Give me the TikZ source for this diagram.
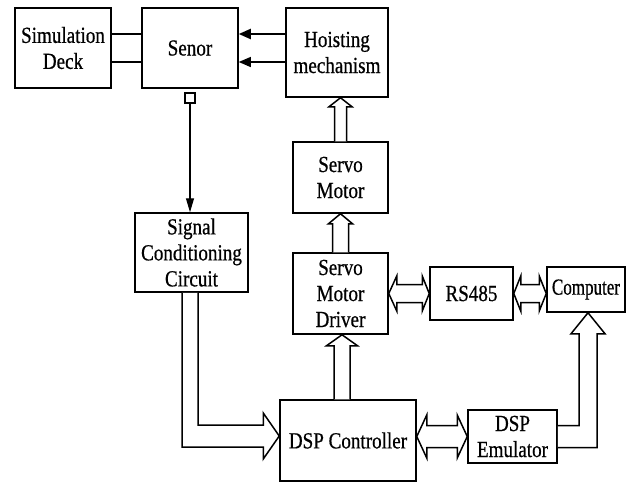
\documentclass[tikz,border=0pt]{standalone}
\usepackage{fontspec}
\setmainfont{Liberation Serif}[FakeStretch=0.83,FakeBold=0.6]
\newfontfamily\narrowfont{Liberation Serif}[FakeStretch=0.74,FakeBold=0.6]
\usetikzlibrary{arrows.meta,calc}
\begin{document}
\begin{tikzpicture}[x=1pt,y=-1pt,
  blk/.style={draw,line width=1.5pt,align=center,inner sep=0pt,
    font=\fontsize{23}{26}\selectfont},
  hol/.style={draw,line width=1.5pt,line join=miter,fill=white}]
\useasboundingbox (0,0) rectangle (631,482);
\node[blk,minimum width=96pt,minimum height=80pt] (sim) at (63,48) {Simulation\\Deck};
\node[blk,minimum width=96pt,minimum height=80pt] (senor) at (190,48) {Senor};
\node[blk,minimum width=102pt,minimum height=89pt] (hoist) at (337,52.5) {Hoisting\\mechanism};
\node[blk,minimum width=95pt,minimum height=71pt] (motor) at (340.5,177.5) {Servo\\Motor};
\node[blk,minimum width=113pt,minimum height=79pt] (signal) at (191.5,252.5) {Signal\\Conditioning\\Circuit};
\node[blk,minimum width=95pt,minimum height=81pt] (driver) at (340.5,293.5) {Servo\\Motor\\Driver};
\node[blk,minimum width=83pt,minimum height=53pt] (rs) at (471.5,293.5) {RS485};
\node[blk,minimum width=78pt,minimum height=45pt,font=\fontsize{23}{26}\narrowfont] (comp) at (586,289.5) {Computer};
\node[blk,minimum width=136pt,minimum height=81pt] (dsp) at (348,440.5) {DSP Controller};
\node[blk,minimum width=89pt,minimum height=53pt] (emu) at (512.5,436.5) {DSP\\Emulator};
\node[draw,line width=1.2pt,minimum size=10pt,inner sep=0pt] (port) at (190,98) {};
% simulation deck -- senor
\draw[line width=2pt] ([yshift=14pt]sim.east) -- ([yshift=14pt]sim.east -| senor.west);
\draw[line width=1.1pt] ([yshift=-14pt]sim.east) -- ([yshift=-14pt]sim.east -| senor.west);
% hoisting -> senor
\draw[line width=2pt,-{Triangle[length=12pt,width=10pt]}] ([yshift=18.5pt]hoist.west) -- ([yshift=18.5pt]hoist.west -| senor.east);
\draw[line width=1.1pt,-{Triangle[length=12pt,width=10pt]}] ([yshift=-9.5pt]hoist.west) -- ([yshift=-9.5pt]hoist.west -| senor.east);
% senor -> signal
\draw[line width=1.1pt,-{Triangle[length=14pt,width=8pt]}] (port.south) -- (port.south |- signal.north);
% motor -> hoist
\draw[hol] let \p1=(motor.north), \p2=(hoist.south) in
  (\x1-6pt,\y1) -- (\x1-6pt,\y2-9pt) -- (\x1-11.5pt,\y2-9pt) -- (\x1,\y2)
  -- (\x1+11.5pt,\y2-9pt) -- (\x1+6pt,\y2-9pt) -- (\x1+6pt,\y1);
% driver -> motor
\draw[hol] let \p1=(driver.north), \p2=(motor.south) in
  (\x1-8pt,\y1) -- (\x1-8pt,\y2-10pt) -- (\x1-12pt,\y2-10pt) -- (\x1,\y2)
  -- (\x1+12pt,\y2-10pt) -- (\x1+8pt,\y2-10pt) -- (\x1+8pt,\y1);
% dsp -> driver
\draw[hol] let \p1=([xshift=-6pt]dsp.north), \p2=(driver.south) in
  (\x1-8pt,\y1) -- (\x1-8pt,\y2-11pt) -- (\x1-15.5pt,\y2-11pt) -- (\x1,\y2)
  -- (\x1+15.5pt,\y2-11pt) -- (\x1+8pt,\y2-11pt) -- (\x1+8pt,\y1);
% signal -> dsp
\draw[hol] let \p1=(signal.south), \p2=([yshift=4.5pt]dsp.west) in
  (\x1-9.5pt,\y1) -- (\x1-9.5pt,\y2-11pt) -- (\x2-16pt,\y2-11pt) -- (\x2-16pt,\y2-23pt)
  -- (\x2,\y2) -- (\x2-16pt,\y2+23pt) -- (\x2-16pt,\y2+11pt) -- (\x1+6.5pt,\y2+11pt) -- (\x1+6.5pt,\y1);
% dsp <-> emulator
\draw[hol] let \p1=(dsp.east), \p2=(emu.west) in
  (\x1,\y2) -- (\x1+10pt,\y2+21.5pt) -- (\x1+10pt,\y2+11pt) -- (\x2-10pt,\y2+11pt)
  -- (\x2-10pt,\y2+21.5pt) -- (\x2,\y2) -- (\x2-10pt,\y2-21.5pt) -- (\x2-10pt,\y2-11pt)
  -- (\x1+10pt,\y2-11pt) -- (\x1+10pt,\y2-21.5pt) -- cycle;
% driver <-> rs485
\draw[hol] let \p1=(driver.east), \p2=(rs.west) in
  (\x1,\y1) -- (\x1+8pt,\y1+17.5pt) -- (\x1+8pt,\y1+9pt) -- (\x2-7pt,\y1+9pt)
  -- (\x2-7pt,\y1+17.5pt) -- (\x2,\y1) -- (\x2-7pt,\y1-17.5pt) -- (\x2-7pt,\y1-9pt)
  -- (\x1+8pt,\y1-9pt) -- (\x1+8pt,\y1-17.5pt) -- cycle;
% rs485 <-> computer
\draw[hol] let \p1=(rs.east), \p2=(comp.west) in
  (\x1,\y1) -- (\x1+7pt,\y1+17.5pt) -- (\x1+7pt,\y1+9pt) -- (\x2-7pt,\y1+9pt)
  -- (\x2-7pt,\y1+17.5pt) -- (\x2,\y1) -- (\x2-7pt,\y1-17.5pt) -- (\x2-7pt,\y1-9pt)
  -- (\x1+7pt,\y1-9pt) -- (\x1+7pt,\y1-17.5pt) -- cycle;
% emulator -> computer
\draw[hol] let \p1=(emu.east), \p2=([xshift=2pt]comp.south) in
  (\x1,\y1+11pt) -- (\x2-9pt,\y1+11pt) -- (\x2-9pt,\y2-21pt) -- (\x2-17pt,\y2-21pt)
  -- (\x2,\y2) -- (\x2+17pt,\y2-21pt) -- (\x2+9pt,\y2-21pt) -- (\x2+9pt,\y1-11pt) -- (\x1,\y1-11pt);
\end{tikzpicture}
\end{document}
